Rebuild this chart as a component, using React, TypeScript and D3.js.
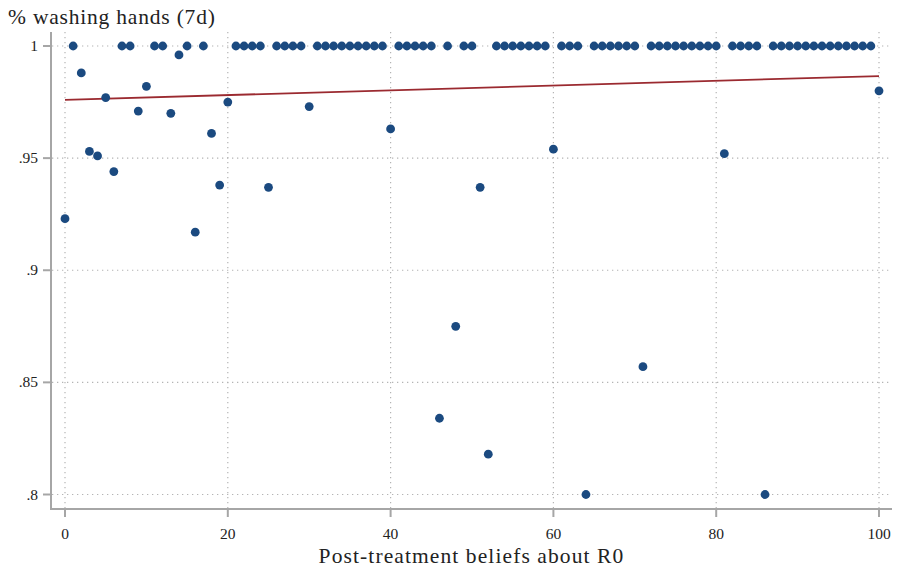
import React, { useRef, useEffect } from 'react';
import * as d3 from 'd3';

// x values where the share is exactly 1
const onesX = [1, 7, 8, 11, 12, 15, 17, 21, 22, 23, 24, 26, 27, 28, 29,
  31, 32, 33, 34, 35, 36, 37, 38, 39, 41, 42, 43, 44, 45, 47, 49, 50,
  53, 54, 55, 56, 57, 58, 59, 61, 62, 63, 65, 66, 67, 68, 69, 70,
  72, 73, 74, 75, 76, 77, 78, 79, 80, 82, 83, 84, 85,
  87, 88, 89, 90, 91, 92, 93, 94, 95, 96, 97, 98, 99];

// the remaining points
const otherX = [0, 2, 3, 4, 5, 6, 9, 10, 13, 14, 16, 18, 19, 20, 25, 30, 40,
  46, 48, 51, 52, 60, 64, 71, 81, 86, 100];
const otherY = [0.923, 0.988, 0.953, 0.951, 0.977, 0.944, 0.971, 0.982, 0.970, 0.996,
  0.917, 0.961, 0.938, 0.975, 0.937, 0.973, 0.963,
  0.834, 0.875, 0.937, 0.818, 0.954, 0.8, 0.857, 0.952, 0.8, 0.980];

// linear fit endpoints
const fitX = [0, 100];
const fitY = [0.976, 0.9866];

const xTicks = [0, 20, 40, 60, 80, 100];
const yTicks = [0.8, 0.85, 0.9, 0.95, 1];
const yTickLabels = ['.8', '.85', '.9', '.95', '1'];

const title = '% washing hands (7d)';
const xTitle = 'Post-treatment beliefs about R0';

export default function App() {
  const svgRef = useRef<SVGSVGElement>(null);

  useEffect(() => {
    const width = 897;
    const height = 569;
    const font = '"Liberation Serif", serif';

    const svg = d3.select(svgRef.current)
      .attr('width', width)
      .attr('height', height);
    svg.selectAll('*').remove();

    const x = d3.scaleLinear().domain([0, 100]).range([65, 879]);
    const y = d3.scaleLinear().domain([0.8, 1]).range([494.5, 46]);

    const frame = { left: 51, right: 892, top: 32, bottom: 509 };
    const grey = '#a6a6a6';

    // grid
    svg.append('g')
      .selectAll('line')
      .data(yTicks)
      .join('line')
      .attr('x1', frame.left + 1)
      .attr('x2', frame.right)
      .attr('y1', d => y(d))
      .attr('y2', d => y(d))
      .attr('stroke', '#b4b4b4')
      .attr('stroke-width', 1.2)
      .attr('stroke-dasharray', '1.3 3.7');

    svg.append('g')
      .selectAll('line')
      .data(xTicks)
      .join('line')
      .attr('x1', d => x(d))
      .attr('x2', d => x(d))
      .attr('y1', frame.top)
      .attr('y2', frame.bottom - 1)
      .attr('stroke', '#b4b4b4')
      .attr('stroke-width', 1.2)
      .attr('stroke-dasharray', '1.3 3.7');

    // axes
    svg.append('line')
      .attr('x1', frame.left).attr('x2', frame.left)
      .attr('y1', frame.top).attr('y2', frame.bottom + 1)
      .attr('stroke', grey).attr('stroke-width', 2);
    svg.append('line')
      .attr('x1', frame.left).attr('x2', frame.right)
      .attr('y1', frame.bottom).attr('y2', frame.bottom)
      .attr('stroke', grey).attr('stroke-width', 2);

    // y ticks
    const yt = svg.append('g');
    yt.selectAll('line')
      .data(yTicks)
      .join('line')
      .attr('x1', frame.left - 8)
      .attr('x2', frame.left)
      .attr('y1', d => y(d))
      .attr('y2', d => y(d))
      .attr('stroke', grey)
      .attr('stroke-width', 2);
    yt.selectAll('text')
      .data(yTicks)
      .join('text')
      .attr('x', frame.left - 13)
      .attr('y', d => y(d) + 5)
      .attr('text-anchor', 'end')
      .attr('font-family', font)
      .attr('font-size', 15.5)
      .attr('fill', '#222')
      .text((d, i) => yTickLabels[i]);

    // x ticks
    const xt = svg.append('g');
    xt.selectAll('line')
      .data(xTicks)
      .join('line')
      .attr('x1', d => x(d))
      .attr('x2', d => x(d))
      .attr('y1', frame.bottom)
      .attr('y2', frame.bottom + 8)
      .attr('stroke', grey)
      .attr('stroke-width', 2);
    xt.selectAll('text')
      .data(xTicks)
      .join('text')
      .attr('x', d => x(d))
      .attr('y', 539)
      .attr('text-anchor', 'middle')
      .attr('font-family', font)
      .attr('font-size', 15.5)
      .attr('fill', '#222')
      .text(d => String(d));

    // fit line
    const line = d3.line<number>()
      .x((d, i) => x(fitX[i]))
      .y(d => y(d));
    svg.append('path')
      .datum(fitY)
      .attr('d', line)
      .attr('fill', 'none')
      .attr('stroke', '#9b2a30')
      .attr('stroke-width', 1.8);

    // points
    const pts = [
      ...onesX.map(v => ({ x: v, y: 1 })),
      ...otherX.map((v, i) => ({ x: v, y: otherY[i] })),
    ];
    svg.append('g')
      .selectAll('circle')
      .data(pts)
      .join('circle')
      .attr('cx', d => x(d.x))
      .attr('cy', d => y(d.y))
      .attr('r', 4.4)
      .attr('fill', '#1b4a80');

    // titles
    svg.append('text')
      .attr('x', 8)
      .attr('y', 24)
      .attr('font-family', font)
      .attr('font-size', 21.5)
      .attr('letter-spacing', 0.8)
      .attr('fill', '#222')
      .text(title);

    svg.append('text')
      .attr('x', (frame.left + frame.right) / 2)
      .attr('y', 563)
      .attr('text-anchor', 'middle')
      .attr('font-family', font)
      .attr('font-size', 21.5)
      .attr('letter-spacing', 1.1)
      .attr('fill', '#222')
      .text(xTitle);
  }, []);

  return (
    <svg ref={svgRef} style={{ position: 'absolute', left: 0, top: 0, background: '#fff' }} />
  );
}
